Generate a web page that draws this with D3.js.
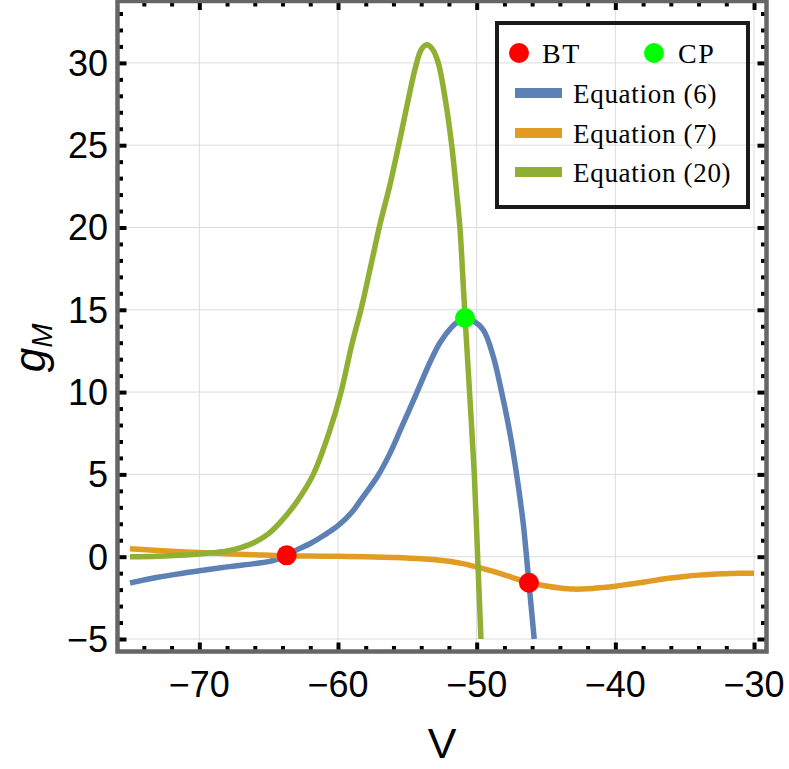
<!DOCTYPE html>
<html>
<head>
<meta charset="utf-8">
<script src="https://cdn.jsdelivr.net/npm/d3@7"></script>
<style>
  body { margin: 0; background: #fff; }
  svg { display: block; }
</style>
</head>
<body>
<div id="chart"></div>
<script>
// Equation (6) - blue
const eq6V = [-75, -73, -71, -70, -68, -66, -65, -64.5, -64, -63.7, -63, -62, -61, -60, -59, -58.35, -57.1, -56.3, -55.5, -54.3, -53.4, -52.65, -51.8, -51.3, -50.84, -50.3, -49.52, -48.8, -48.2, -47.6, -47.12, -46.64, -46.45, -46.23, -45.85];
const eq6G = [-1.6, -1.25, -0.98, -0.85, -0.62, -0.42, -0.3, -0.2, -0.05, 0.08, 0.4, 0.8, 1.3, 1.88, 2.7, 3.45, 4.95, 6.2, 7.7, 10, 11.75, 13.0, 13.95, 14.3, 14.5, 14.35, 13.77, 12.15, 10, 7.5, 5, 2.0, 0.4, -1.58, -5];

// Equation (7) - orange
const eq7V = [-75, -73, -71, -70, -68, -66, -64, -62, -60, -58, -56, -54, -53, -52, -51, -50, -49, -48, -47, -46.23, -45, -44, -43, -42, -41, -40, -39, -38, -37, -36, -35, -34, -33, -32, -31, -30];
const eq7G = [0.48, 0.38, 0.29, 0.25, 0.18, 0.12, 0.06, 0.04, 0.02, 0.0, -0.05, -0.12, -0.18, -0.28, -0.42, -0.62, -0.85, -1.1, -1.38, -1.58, -1.78, -1.9, -1.97, -1.95, -1.88, -1.79, -1.67, -1.55, -1.42, -1.3, -1.2, -1.12, -1.06, -1.03, -1.01, -1.0];

// Equation (20) - green
const eq20V = [-75, -73, -71, -70, -69, -68, -67, -66, -65, -64.2, -63, -61.78, -60.58, -59.78, -59.0, -58.29, -57.6, -57.0, -56.25, -55.6, -55.0, -54.45, -54, -53.6, -53.2, -52.77, -52.21, -51.8, -51.49, -51.2, -51.0, -50.84, -50.5, -50.17, -49.93, -49.69];
const eq20G = [0.0, 0.03, 0.1, 0.17, 0.24, 0.35, 0.55, 0.88, 1.4, 2.05, 3.3, 5.0, 7.7, 10, 12.9, 15.2, 17.8, 20.1, 22.6, 25.1, 27.5, 29.6, 30.8, 31.1, 30.85, 30, 27.5, 25, 22.5, 19.9, 17, 14.6, 9.8, 5, 0, -5];

// special points
const btV = [-63.7, -46.23];
const btG = [0.08, -1.58];
const cpV = [-50.84];
const cpG = [14.5];

const xMajor = [-70, -60, -50, -40, -30];
const yMajor = [-5, 0, 5, 10, 15, 20, 25, 30];
const legendNames = ['Equation (6)', 'Equation (7)', 'Equation (20)'];
const colors = ['#5e81b5', '#e19c24', '#8fb032'];

const width = 789;
const height = 769;
const plotLeft = 117.5, plotRight = 766.5, plotTop = 1, plotBottom = 651.5;

const x = d3.scaleLinear().domain([-75.9, -29.1]).range([plotLeft, plotRight]);
const y = d3.scaleLinear().domain([-5.76, 33.76]).range([plotBottom, plotTop]);

const xMinor = d3.range(-74, -29, 2).filter(v => !xMajor.includes(v));
const yMinor = d3.range(-5, 34, 1).filter(v => !yMajor.includes(v));

const svg = d3.select('#chart').append('svg')
  .attr('width', width)
  .attr('height', height);

svg.append('rect').attr('width', width).attr('height', height).attr('fill', '#fff');

svg.append('clipPath').attr('id', 'plot-clip')
  .append('rect')
  .attr('x', plotLeft).attr('y', plotTop)
  .attr('width', plotRight - plotLeft).attr('height', plotBottom - plotTop);

// grid
const grid = svg.append('g').attr('stroke', '#dcdcdc').attr('stroke-width', 1);
grid.selectAll('.gx').data(xMajor).enter().append('line')
  .attr('x1', d => x(d)).attr('x2', d => x(d))
  .attr('y1', plotTop).attr('y2', plotBottom);
grid.selectAll('.gy').data(yMajor).enter().append('line')
  .attr('x1', plotLeft).attr('x2', plotRight)
  .attr('y1', d => y(d)).attr('y2', d => y(d));

// curves
const line = d3.line()
  .x(d => x(d[0]))
  .y(d => y(d[1]))
  .curve(d3.curveCatmullRom.alpha(0.5));

const series = [
  d3.zip(eq6V, eq6G),
  d3.zip(eq7V, eq7G),
  d3.zip(eq20V, eq20G),
];

const curves = svg.append('g').attr('clip-path', 'url(#plot-clip)');
curves.selectAll('path').data(series).enter().append('path')
  .attr('d', line)
  .attr('fill', 'none')
  .attr('stroke', (d, i) => colors[i])
  .attr('stroke-width', 5.5)
  .attr('stroke-linejoin', 'round');

// points
svg.append('g').selectAll('circle').data(d3.zip(btV, btG)).enter().append('circle')
  .attr('cx', d => x(d[0])).attr('cy', d => y(d[1]))
  .attr('r', 10).attr('fill', '#ff0000');
svg.append('g').selectAll('circle').data(d3.zip(cpV, cpG)).enter().append('circle')
  .attr('cx', d => x(d[0])).attr('cy', d => y(d[1]))
  .attr('r', 10).attr('fill', '#00ff00');

// frame ticks (inward, all four sides)
function tickAxis(axis, tr) {
  const g = svg.append('g').attr('transform', tr).call(axis);
  g.select('.domain').remove();
  g.selectAll('.tick line').attr('stroke', '#000').attr('stroke-width', 4);
  g.selectAll('.tick text').remove();
}
tickAxis(d3.axisBottom(x).tickValues(xMajor).tickSizeInner(-9).tickSizeOuter(0), `translate(0,${plotBottom})`);
tickAxis(d3.axisBottom(x).tickValues(xMinor).tickSizeInner(-5.5).tickSizeOuter(0), `translate(0,${plotBottom})`);
tickAxis(d3.axisTop(x).tickValues(xMajor).tickSizeInner(-9).tickSizeOuter(0), `translate(0,${plotTop})`);
tickAxis(d3.axisTop(x).tickValues(xMinor).tickSizeInner(-5.5).tickSizeOuter(0), `translate(0,${plotTop})`);
tickAxis(d3.axisLeft(y).tickValues(yMajor).tickSizeInner(-9).tickSizeOuter(0), `translate(${plotLeft},0)`);
tickAxis(d3.axisLeft(y).tickValues(yMinor).tickSizeInner(-5.5).tickSizeOuter(0), `translate(${plotLeft},0)`);
tickAxis(d3.axisRight(y).tickValues(yMajor).tickSizeInner(-9).tickSizeOuter(0), `translate(${plotRight},0)`);
tickAxis(d3.axisRight(y).tickValues(yMinor).tickSizeInner(-5.5).tickSizeOuter(0), `translate(${plotRight},0)`);

// frame
svg.append('rect')
  .attr('x', plotLeft).attr('y', plotTop)
  .attr('width', plotRight - plotLeft).attr('height', plotBottom - plotTop)
  .attr('fill', 'none')
  .attr('stroke', '#666')
  .attr('stroke-width', 4.5);

// tick labels
const fmt = v => (v < 0 ? '\u2212' + Math.abs(v) : String(v));
const labelFont = "'Liberation Sans', Arial, sans-serif";

svg.append('g').selectAll('text').data(xMajor).enter().append('text')
  .attr('x', d => x(d))
  .attr('y', 697)
  .attr('text-anchor', 'middle')
  .attr('font-family', labelFont)
  .attr('font-size', 36)
  .text(fmt);

svg.append('g').selectAll('text').data(yMajor).enter().append('text')
  .attr('x', 108)
  .attr('y', d => y(d) + 13)
  .attr('text-anchor', 'end')
  .attr('font-family', labelFont)
  .attr('font-size', 36)
  .text(fmt);

// axis titles
svg.append('text')
  .attr('x', (plotLeft + plotRight) / 2)
  .attr('y', 758)
  .attr('text-anchor', 'middle')
  .attr('font-family', labelFont)
  .attr('font-size', 43)
  .text('V');

const yTitle = svg.append('text')
  .attr('transform', 'translate(45,348) rotate(-90)')
  .attr('text-anchor', 'middle')
  .attr('font-family', labelFont)
  .attr('font-style', 'italic');
yTitle.append('tspan').attr('font-size', 44).text('g');
yTitle.append('tspan').attr('font-size', 29).attr('dy', 7).text('M');

// legend
const legend = svg.append('g');
legend.append('rect')
  .attr('x', 497).attr('y', 23)
  .attr('width', 251).attr('height', 184)
  .attr('fill', 'none')
  .attr('stroke', '#1a1a1a')
  .attr('stroke-width', 4);

const serif = "'Liberation Serif', 'Times New Roman', serif";
legend.append('circle').attr('cx', 519).attr('cy', 53).attr('r', 10).attr('fill', '#ff0000');
legend.append('text').attr('x', 542).attr('y', 63)
  .attr('font-family', serif).attr('font-size', 28).attr('letter-spacing', 1.5).text('BT');
legend.append('circle').attr('cx', 654).attr('cy', 53).attr('r', 10).attr('fill', '#00ff00');
legend.append('text').attr('x', 678).attr('y', 63)
  .attr('font-family', serif).attr('font-size', 28).attr('letter-spacing', 1.5).text('CP');

const rowY = [93, 133, 172];
legendNames.forEach((name, i) => {
  legend.append('line')
    .attr('x1', 515).attr('x2', 562)
    .attr('y1', rowY[i]).attr('y2', rowY[i])
    .attr('stroke', colors[i])
    .attr('stroke-width', 10);
  legend.append('text')
    .attr('x', 573).attr('y', rowY[i] + 10)
    .attr('font-family', serif)
    .attr('font-size', 27)
    .attr('letter-spacing', 0.7)
    .text(name);
});
</script>
</body>
</html>
